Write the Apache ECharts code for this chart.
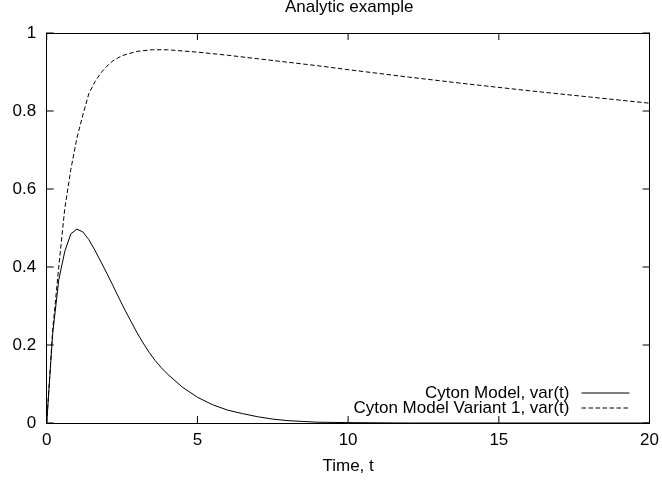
<!DOCTYPE html>
<html>
<head>
<meta charset="utf-8">
<script src="https://cdn.jsdelivr.net/npm/echarts@6/dist/echarts.min.js"></script>
<style>
html,body{margin:0;padding:0;background:#fff;}
#chart{width:662px;height:480px;}
</style>
</head>
<body>
<div id="chart"></div>
<script>
const titleText = "Analytic example";
const xAxisName = "Time, t";
const seriesNames = ["Cyton Model, var(t)", "Cyton Model Variant 1, var(t)"];

const tSolid = [0, 0.2, 0.4, 0.6, 0.8, 1.0, 1.2, 1.4, 1.6, 1.8, 2.0, 2.2, 2.4, 2.6, 2.8, 3.0, 3.2, 3.4, 3.6, 3.8, 4.0, 4.5, 5.0, 5.5, 6.0, 6.5, 7.0, 7.5, 8.0, 8.5, 9.0, 10, 12, 15, 20];
const vSolid = [0, 0.23, 0.367, 0.44, 0.485, 0.497, 0.49, 0.47, 0.443, 0.413, 0.383, 0.352, 0.32, 0.289, 0.26, 0.231, 0.205, 0.181, 0.16, 0.142, 0.126, 0.092, 0.066, 0.047, 0.033, 0.024, 0.016, 0.010, 0.006, 0.004, 0.002, 0.001, 0, 0, 0];

const tDashed = [0, 0.2, 0.4, 0.6, 0.8, 1.0, 1.2, 1.4, 1.6, 1.8, 2.0, 2.2, 2.5, 3.0, 3.5, 4.0, 5, 6, 7, 8, 9, 10, 12, 14, 16, 18, 20];
const vDashed = [0, 0.24, 0.40, 0.55, 0.65, 0.73, 0.79, 0.845, 0.875, 0.898, 0.915, 0.929, 0.942, 0.953, 0.957, 0.957, 0.951, 0.943, 0.934, 0.925, 0.916, 0.906, 0.887, 0.869, 0.852, 0.836, 0.82];

const xMin = 0, xMax = 20, xStep = 5;
const yMin = 0, yMax = 1, yStep = 0.2;
const xTickValues = [0, 5, 10, 15, 20];
const yTickValues = [0, 0.2, 0.4, 0.6, 0.8, 1];

const FONT = "Liberation Sans, Arial, sans-serif";
const FS = 17;
const TICK_LEN = 7;

function pairs(t, v) { return t.map((x, i) => [x, v[i]]); }
function axisLine() { return { show: true, onZero: false, lineStyle: { color: '#000', width: 1 } }; }

// inward mirror ticks on all four sides: [x, y, side]
const tickData = []
  .concat(xTickValues.map(v => [v, yMin, 0]))
  .concat(xTickValues.map(v => [v, yMax, 1]))
  .concat(yTickValues.map(v => [xMin, v, 2]))
  .concat(yTickValues.map(v => [xMax, v, 3]));

function renderTick(params, api) {
  const p = api.coord([api.value(0), api.value(1)]);
  const side = api.value(2);
  let dx = 0, dy = 0;
  if (side === 0) dy = -TICK_LEN;
  else if (side === 1) dy = TICK_LEN;
  else if (side === 2) dx = TICK_LEN;
  else dx = -TICK_LEN;
  return {
    type: 'line',
    shape: { x1: p[0], y1: p[1], x2: p[0] + dx, y2: p[1] + dy },
    style: { stroke: '#000', lineWidth: 1 },
    silent: true
  };
}

function legendCfg(name, top, dashed) {
  return {
    orient: 'horizontal', align: 'right',
    right: 32, top: top, padding: 0,
    itemWidth: 48, itemHeight: 10,
    selectedMode: false,
    itemStyle: { color: 'rgba(0,0,0,0)', borderWidth: 0 },
    lineStyle: { color: '#000', width: 1, type: dashed ? [4.5, 2.5] : 'solid' },
    textStyle: { fontFamily: FONT, fontSize: FS, color: '#000', padding: [0, 7, 0, 0] },
    data: [name]
  };
}

const chart = echarts.init(document.getElementById('chart'), null, { renderer: 'canvas' });
chart.setOption({
  animation: false,
  backgroundColor: '#fff',
  title: {
    text: titleText,
    left: 285, top: -1, padding: 0,
    textStyle: { fontFamily: FONT, fontSize: FS, fontWeight: 'normal', color: '#000' }
  },
  grid: { left: 46.7, right: 11, top: 33, bottom: 57, containLabel: false },
  legend: [legendCfg(seriesNames[0], 384.5, false), legendCfg(seriesNames[1], 399.5, true)],
  xAxis: [
    {
      type: 'value', min: xMin, max: xMax, interval: xStep,
      name: xAxisName, nameLocation: 'middle', nameGap: 34.5,
      nameTextStyle: { fontFamily: FONT, fontSize: FS, color: '#000' },
      axisLine: axisLine(), axisTick: { show: false },
      axisLabel: { fontFamily: FONT, fontSize: FS, color: '#000', margin: 9 },
      splitLine: { show: false }
    },
    {
      type: 'value', position: 'top', min: xMin, max: xMax, interval: xStep,
      axisLine: axisLine(), axisTick: { show: false },
      axisLabel: { show: false },
      splitLine: { show: false }
    }
  ],
  yAxis: [
    {
      type: 'value', min: yMin, max: yMax, interval: yStep,
      axisLine: axisLine(), axisTick: { show: false },
      axisLabel: { fontFamily: FONT, fontSize: FS, color: '#000', margin: 10.5 },
      splitLine: { show: false }
    },
    {
      type: 'value', position: 'right', min: yMin, max: yMax, interval: yStep,
      axisLine: axisLine(), axisTick: { show: false },
      axisLabel: { show: false },
      splitLine: { show: false }
    }
  ],
  series: [
    {
      name: seriesNames[0], type: 'line', xAxisIndex: 0, yAxisIndex: 0,
      data: pairs(tSolid, vSolid),
      showSymbol: false, symbol: 'none', smooth: false,
      lineStyle: { color: '#000', width: 1, type: 'solid' },
      itemStyle: { color: '#000' }
    },
    {
      name: seriesNames[1], type: 'line', xAxisIndex: 0, yAxisIndex: 0,
      data: pairs(tDashed, vDashed),
      showSymbol: false, symbol: 'none', smooth: false,
      lineStyle: { color: '#000', width: 1, type: [4.5, 2.5] },
      itemStyle: { color: '#000' }
    },
    {
      name: 'ticks', type: 'custom', xAxisIndex: 0, yAxisIndex: 0,
      data: tickData, encode: { x: 0, y: 1 },
      renderItem: renderTick, clip: false, silent: true, z: 5
    }
  ]
});
</script>
</body>
</html>
